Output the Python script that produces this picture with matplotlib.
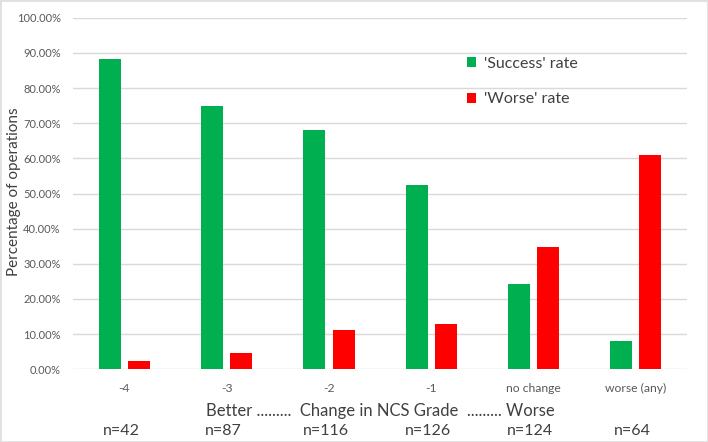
import numpy as np
import matplotlib
matplotlib.use("Agg")
import matplotlib.pyplot as plt
from matplotlib.ticker import FuncFormatter
from matplotlib.patches import Rectangle

plt.rcParams['font.family'] = ['Lato', 'DejaVu Sans']

categories = ['-4', '-3', '-2', '-1', 'no change', 'worse (any)']
n_labels = ['n=42', 'n=87', 'n=116', 'n=126', 'n=124', 'n=64']
success = [88.4, 74.8, 68.2, 52.5, 24.3, 8.0]
worse = [2.5, 4.7, 11.3, 12.8, 34.8, 61.0]

green = '#00B050'
red = '#FF0000'
txt = '#404040'

fig = plt.figure(figsize=(7.08, 4.42), dpi=100)
ax = fig.add_axes([0.1035, 0.1645, 0.8665, 0.7952])

x = np.arange(len(categories))
w = 0.215
ax.bar(x - 0.143, np.array(success) / 100, w, color=green, label="'Success' rate", zorder=3)
ax.bar(x + 0.143, np.array(worse) / 100, w, color=red, label="'Worse' rate", zorder=3)

ax.set_xlim(-0.5, len(categories) - 0.5)
ax.set_ylim(0, 1.0)
ax.set_yticks(np.arange(0, 1.01, 0.1))
ax.yaxis.set_major_formatter(FuncFormatter(lambda v, p: '%.2f%%' % (v * 100)))
ax.grid(axis='y', color='#d9d9d9', linewidth=1, zorder=0)
ax.set_axisbelow(True)
for s in ax.spines.values():
    s.set_visible(False)
ax.tick_params(length=0, colors='#595959', labelsize=8)
ax.tick_params(axis='y', pad=9)
ax.tick_params(axis='x', pad=10, labelsize=8.7)
ax.set_xticks(x)
ax.set_xticklabels(categories)

# y label placed on the figure so it is not clipped
fig.text(14 / 708, 0.567, 'Percentage of operations', rotation=90,
         ha='center', va='center', fontsize=11, color=txt)

ax.text(0.5, -0.12, 'Better .........  Change in NCS Grade  ......... Worse',
        transform=ax.transAxes, ha='center', va='center', fontsize=12, color=txt)
for i, lab in enumerate(n_labels):
    ax.text(i - 0.03, -0.175, lab, transform=ax.get_xaxis_transform(),
            ha='center', va='center', fontsize=11.5, color=txt)

ax.legend(loc='upper left', bbox_to_anchor=(0.618, 0.93), frameon=False,
          fontsize=11.5, labelcolor=txt, handlelength=0.6, handleheight=0.6,
          handletextpad=0.5, labelspacing=1.35)

fig.patches.append(Rectangle((0, 0), 1, 1, transform=fig.transFigure,
                             fill=False, edgecolor='#e0e0e0', linewidth=2))

plt.savefig('out.png', dpi=100)
